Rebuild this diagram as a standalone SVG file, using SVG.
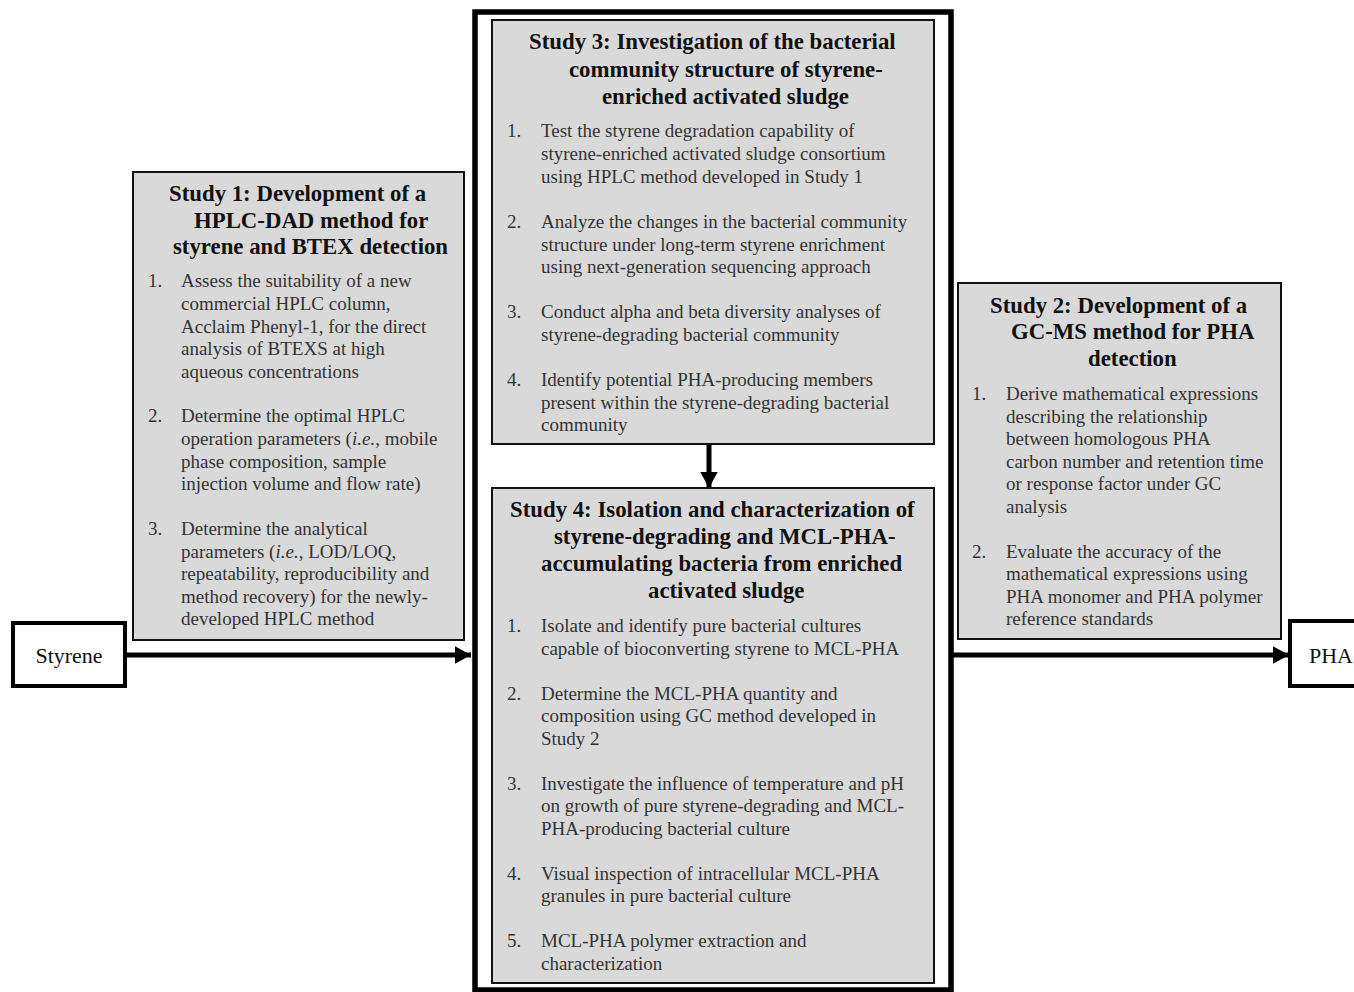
<svg xmlns="http://www.w3.org/2000/svg" width="1354" height="992" viewBox="0 0 1354 992">
<style>
.box{fill:#d9d9d9;stroke:#111;stroke-width:2}
.term{fill:#fff;stroke:#000;stroke-width:4}
.t{font-family:"Liberation Serif","Times New Roman",serif;font-weight:bold;font-size:22.8px;fill:#111}
.b{font-family:"Liberation Serif","Times New Roman",serif;font-size:19px;fill:#333}
.l{font-family:"Liberation Serif","Times New Roman",serif;font-size:22px;fill:#111}
.c{stroke:#000;stroke-width:5;fill:none}
</style>
<defs>
<marker id="ah" viewBox="0 0 10 10" refX="10" refY="5" markerWidth="3.3" markerHeight="3.6" markerUnits="strokeWidth" orient="auto" preserveAspectRatio="none">
<path d="M0,0 L10,5 L0,10 z" fill="#000"/>
</marker>
</defs>
<rect width="1354" height="992" fill="#fff"/>
<g id="frame">
<rect x="475" y="12" width="476" height="978" fill="#fff" stroke="#000" stroke-width="5.5"/>
</g>
<g id="connectors">
<line class="c" x1="126" y1="655" x2="471" y2="655" marker-end="url(#ah)"/>
<line class="c" x1="953" y1="655" x2="1289" y2="655" marker-end="url(#ah)"/>
<line class="c" x1="709" y1="445" x2="709" y2="488" marker-end="url(#ah)"/>
</g>
<g id="styrene">
<rect class="term" x="13" y="623" width="112" height="63"/>
<text class="l" x="69" y="663" text-anchor="middle">Styrene</text>
</g>
<g id="pha">
<rect class="term" x="1290" y="621" width="70" height="65"/>
<text class="l" x="1309" y="663">PHA</text>
</g>
<g id="study1">
<rect class="box" x="133" y="172" width="331" height="468"/>
<text class="t"><tspan x="169" y="201">Study 1: Development of a</tspan><tspan x="194" y="228">HPLC-DAD method for</tspan><tspan x="173" y="254">styrene and BTEX detection</tspan></text>
<text class="b">
<tspan x="148" y="287">1.</tspan><tspan x="181" y="287">Assess the suitability of a new</tspan>
<tspan x="181" y="310">commercial HPLC column,</tspan>
<tspan x="181" y="333">Acclaim Phenyl-1, for the direct</tspan>
<tspan x="181" y="355">analysis of BTEXS at high</tspan>
<tspan x="181" y="378">aqueous concentrations</tspan>
<tspan x="148" y="422">2.</tspan><tspan x="181" y="422">Determine the optimal HPLC</tspan>
<tspan x="181" y="445">operation parameters (<tspan font-style="italic">i.e.</tspan>, mobile</tspan>
<tspan x="181" y="468">phase composition, sample</tspan>
<tspan x="181" y="490">injection volume and flow rate)</tspan>
<tspan x="148" y="535">3.</tspan><tspan x="181" y="535">Determine the analytical</tspan>
<tspan x="181" y="558">parameters (<tspan font-style="italic">i.e.</tspan>, LOD/LOQ,</tspan>
<tspan x="181" y="580">repeatability, reproducibility and</tspan>
<tspan x="181" y="603">method recovery) for the newly-</tspan>
<tspan x="181" y="625">developed HPLC method</tspan>
</text>
</g>
<g id="study3">
<rect class="box" x="492" y="20" width="442" height="424"/>
<text class="t"><tspan x="529" y="49">Study 3: Investigation of the bacterial</tspan><tspan x="569" y="77">community structure of styrene-</tspan><tspan x="602" y="104">enriched activated sludge</tspan></text>
<text class="b">
<tspan x="507" y="137">1.</tspan><tspan x="541" y="137">Test the styrene degradation capability of</tspan>
<tspan x="541" y="160">styrene-enriched activated sludge consortium</tspan>
<tspan x="541" y="183">using HPLC method developed in Study 1</tspan>
<tspan x="507" y="228">2.</tspan><tspan x="541" y="228">Analyze the changes in the bacterial community</tspan>
<tspan x="541" y="251">structure under long-term styrene enrichment</tspan>
<tspan x="541" y="273">using next-generation sequencing approach</tspan>
<tspan x="507" y="318">3.</tspan><tspan x="541" y="318">Conduct alpha and beta diversity analyses of</tspan>
<tspan x="541" y="341">styrene-degrading bacterial community</tspan>
<tspan x="507" y="386">4.</tspan><tspan x="541" y="386">Identify potential PHA-producing members</tspan>
<tspan x="541" y="409">present within the styrene-degrading bacterial</tspan>
<tspan x="541" y="431">community</tspan>
</text>
</g>
<g id="study4">
<rect class="box" x="492" y="488" width="442" height="495"/>
<text class="t"><tspan x="510" y="517">Study 4: Isolation and characterization of</tspan><tspan x="554" y="544">styrene-degrading and MCL-PHA-</tspan><tspan x="541" y="571">accumulating bacteria from enriched</tspan><tspan x="648" y="598">activated sludge</tspan></text>
<text class="b">
<tspan x="507" y="632">1.</tspan><tspan x="541" y="632">Isolate and identify pure bacterial cultures</tspan>
<tspan x="541" y="655">capable of bioconverting styrene to MCL-PHA</tspan>
<tspan x="507" y="700">2.</tspan><tspan x="541" y="700">Determine the MCL-PHA quantity and</tspan>
<tspan x="541" y="722">composition using GC method developed in</tspan>
<tspan x="541" y="745">Study 2</tspan>
<tspan x="507" y="790">3.</tspan><tspan x="541" y="790">Investigate the influence of temperature and pH</tspan>
<tspan x="541" y="812">on growth of pure styrene-degrading and MCL-</tspan>
<tspan x="541" y="835">PHA-producing bacterial culture</tspan>
<tspan x="507" y="880">4.</tspan><tspan x="541" y="880">Visual inspection of intracellular MCL-PHA</tspan>
<tspan x="541" y="902">granules in pure bacterial culture</tspan>
<tspan x="507" y="947">5.</tspan><tspan x="541" y="947">MCL-PHA polymer extraction and</tspan>
<tspan x="541" y="970">characterization</tspan>
</text>
</g>
<g id="study2">
<rect class="box" x="958" y="283" width="323" height="356"/>
<text class="t"><tspan x="990" y="313">Study 2: Development of a</tspan><tspan x="1011" y="339">GC-MS method for PHA</tspan><tspan x="1088" y="366">detection</tspan></text>
<text class="b">
<tspan x="972" y="400">1.</tspan><tspan x="1006" y="400">Derive mathematical expressions</tspan>
<tspan x="1006" y="423">describing the relationship</tspan>
<tspan x="1006" y="445">between homologous PHA</tspan>
<tspan x="1006" y="468">carbon number and retention time</tspan>
<tspan x="1006" y="490">or response factor under GC</tspan>
<tspan x="1006" y="513">analysis</tspan>
<tspan x="972" y="558">2.</tspan><tspan x="1006" y="558">Evaluate the accuracy of the</tspan>
<tspan x="1006" y="580">mathematical expressions using</tspan>
<tspan x="1006" y="603">PHA monomer and PHA polymer</tspan>
<tspan x="1006" y="625">reference standards</tspan>
</text>
</g>
</svg>
